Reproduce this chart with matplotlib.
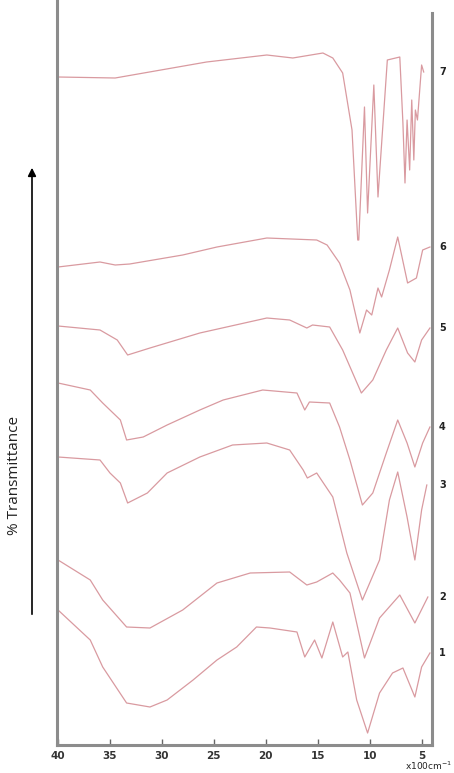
import matplotlib.pyplot as plt

# IR spectra, wavenumber in x100 cm-1, transmittance in arbitrary offset units
c7_wn = [40.0, 34.5, 25.7, 19.9, 17.4, 14.5, 13.55, 12.6, 11.7, 11.15, 11.05, 10.5, 10.2, 9.6, 9.2,
         8.3, 7.1, 6.8, 6.6, 6.4, 6.15, 5.95, 5.75, 5.6, 5.4, 5.0, 4.8]
c7_t = [668, 667, 683, 690, 687, 692, 687, 672, 615, 505, 505, 638, 532, 660, 548,
        685, 688, 622, 562, 625, 575, 645, 585, 635, 625, 680, 673]

c6_wn = [40.0, 35.96, 34.5, 33.1, 28.0, 24.7, 19.9, 15.1, 14.1, 12.9, 11.9, 10.95, 10.3, 9.8, 9.2,
         8.85, 8.1, 7.3, 6.35, 5.5, 4.9, 4.2]
c6_t = [478, 483, 480, 481, 490, 498, 507, 505, 500, 482, 455, 412, 435, 430, 457,
        448, 475, 508, 462, 467, 495, 498]

c5_wn = [40.0, 35.96, 34.3, 33.3, 31.15, 26.35, 19.9, 17.7, 16.05, 15.5, 13.85, 12.6, 10.8, 9.7,
         8.4, 7.3, 6.35, 5.65, 5.0, 4.2]
c5_t = [419, 415, 405, 390, 397, 412, 427, 425, 417, 420, 418, 395, 352, 365,
        395, 417, 392, 383, 405, 417]

c4_wn = [40.0, 36.9, 35.7, 34.0, 33.4, 31.8, 29.5, 26.35, 24.1, 20.3, 17.0, 16.25, 15.8, 13.85,
         12.9, 11.9, 10.7, 9.7, 8.4, 7.3, 6.4, 5.65, 4.9, 4.2]
c4_t = [362, 355, 342, 325, 305, 308, 320, 335, 345, 355, 352, 335, 343, 342,
        318, 285, 240, 252, 292, 325, 302, 278, 302, 318]

c3_wn = [40.0, 35.96, 35.0, 34.0, 33.3, 31.4, 29.5, 26.35, 23.2, 19.9, 17.7, 16.4, 16.0, 15.1,
         13.55, 12.2, 10.7, 9.05, 8.1, 7.3, 6.4, 5.65, 5.0, 4.5]
c3_t = [288, 285, 272, 262, 242, 252, 272, 288, 300, 302, 295, 275, 267, 272,
        248, 192, 145, 185, 245, 273, 228, 185, 235, 260]

c2_wn = [40.0, 36.9, 35.7, 33.4, 31.15, 28.0, 24.7, 21.5, 17.7, 16.05, 15.1, 13.55, 12.9, 11.9,
         10.5, 9.05, 7.1, 5.65, 4.4]
c2_t = [185, 165, 145, 118, 117, 135, 162, 172, 173, 160, 163, 172, 165, 152,
        87, 127, 150, 122, 148]

c1_wn = [40.0, 36.9, 35.7, 33.4, 31.15, 29.5, 27.0, 24.7, 22.8, 20.9, 19.6, 17.0, 16.25, 15.3,
         14.6, 13.55, 12.6, 12.1, 11.25, 10.2, 9.05, 7.8, 6.8, 5.65, 5.0, 4.2]
c1_t = [135, 105, 78, 42, 38, 45, 65, 85, 98, 118, 117, 113, 88, 105,
        87, 123, 88, 93, 45, 12, 52, 72, 77, 48, 78, 92]

curves = [("1", c1_wn, c1_t), ("2", c2_wn, c2_t), ("3", c3_wn, c3_t), ("4", c4_wn, c4_t),
          ("5", c5_wn, c5_t), ("6", c6_wn, c6_t), ("7", c7_wn, c7_t)]
xticks = [40, 35, 30, 25, 20, 15, 10, 5]

fig = plt.figure(figsize=(4.54, 7.73), dpi=100)
ax = fig.add_axes([57 / 454, 28 / 773, 375 / 454, 745 / 773])

for name, wn, t in curves:
    ax.plot(wn, t, color='#d99aa0', linewidth=0.9)
    ax.annotate(name, xy=(1.0, t[-1]), xycoords=('axes fraction', 'data'),
                xytext=(5, 0), textcoords='offset points', fontsize=7,
                fontweight='bold', va='center', ha='left', color='#222222')

ax.set_xlim(40.1, 4.0)
ax.set_ylim(0, 745)
ax.set_xticks(xticks)
ax.set_xticklabels([str(v) for v in xticks], fontsize=7.5, fontweight='bold', color='#333333')
ax.set_yticks([])
ax.tick_params(axis='x', direction='in', length=4, width=1, color='#666666', pad=4)

for s in ['left', 'right', 'bottom']:
    ax.spines[s].set_color('#8c8c8c')
    ax.spines[s].set_linewidth(2.2)
ax.spines['top'].set_visible(False)
ax.spines['right'].set_bounds(0, 732)

fig.text(452 / 454, 1 / 773, 'x100cm$^{-1}$', fontsize=6.5, ha='right', va='bottom', color='#222222')

# transmittance arrow
ax.annotate('', xy=(32 / 454, 608 / 773), xycoords='figure fraction',
            xytext=(32 / 454, 156 / 773), textcoords='figure fraction',
            arrowprops=dict(arrowstyle='-|>', color='black', lw=1.2, mutation_scale=12))
fig.text(15 / 454, 298 / 773, '% Transmittance', rotation=90, fontsize=11,
         family='Open Sans', ha='center', va='center', color='#222222')

fig.savefig('out.png', dpi=100)
